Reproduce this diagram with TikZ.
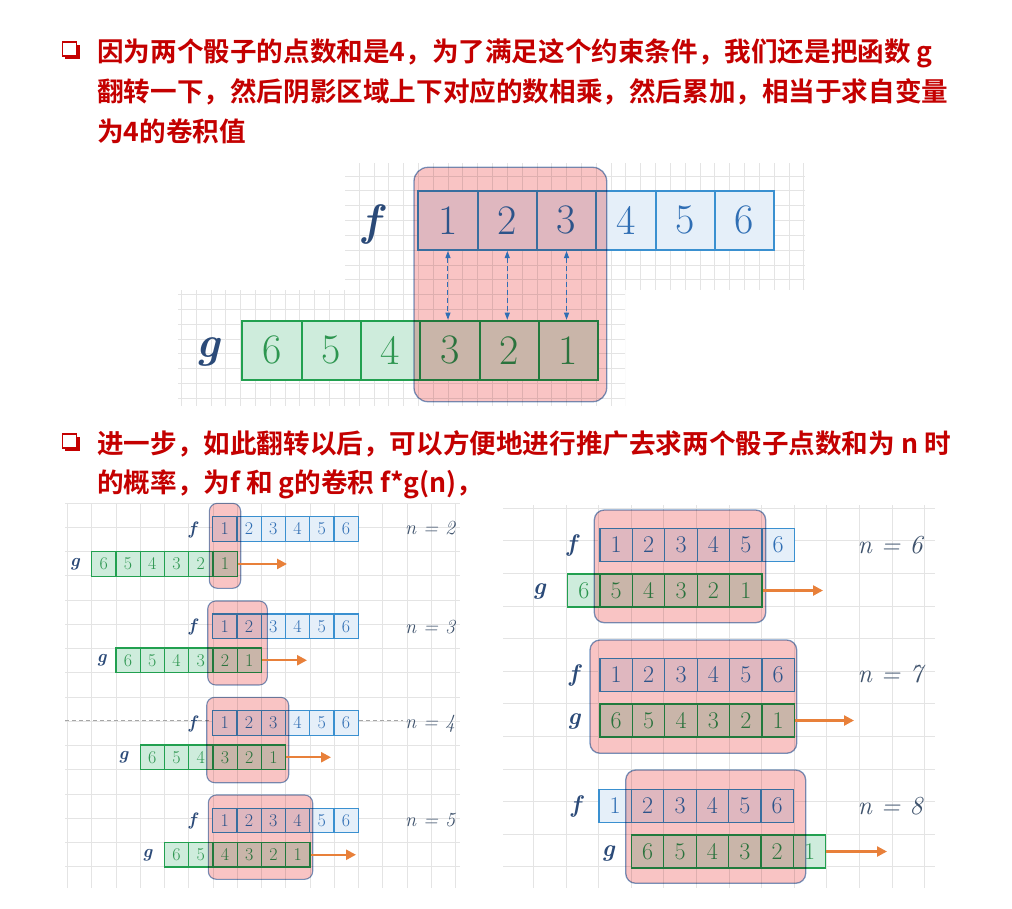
\documentclass[tikz,border=0pt]{standalone}
\usepackage{fontspec}
\newfontfamily\cjk{Noto Sans CJK SC}[BoldFont={Noto Sans CJK SC Bold}]
\usetikzlibrary{arrows.meta}
\definecolor{txtred}{RGB}{196,0,0}
\definecolor{fblue}{RGB}{58,144,208}
\definecolor{ffill}{RGB}{229,239,249}
\definecolor{fnum}{RGB}{47,110,180}
\definecolor{gline}{RGB}{34,160,80}
\definecolor{gfill}{RGB}{206,236,220}
\definecolor{gnum}{RGB}{45,150,80}
\definecolor{pinkfill}{RGB}{249,196,196}
\definecolor{pinkline}{RGB}{122,156,200}
\definecolor{lab}{RGB}{43,74,120}
\definecolor{nlab}{RGB}{62,82,108}
\definecolor{gridc}{RGB}{228,228,228}
\definecolor{arrowor}{RGB}{232,128,58}
\tikzset{
 fcell/.style={draw=fblue, fill=ffill, text=fnum, inner sep=0pt},
 gcell/.style={draw=gline, fill=gfill, text=gnum, inner sep=0pt},
 pinkbox/.style={fill=pinkfill, draw=pinkline, rounded corners=#1},
 pinkbox/.default=8pt,
 gridline/.style={draw=gridc, line width=0.6pt},
 moveArrow/.style={draw=arrowor, line width=2.4pt, -{Triangle[length=10pt,width=10pt]}},
 linkArrow/.style={draw=fnum, line width=1pt, dash pattern=on 5pt off 3pt, {Triangle[length=7pt,width=5pt]}-{Triangle[length=7pt,width=5pt]}},
 bigtext/.style={font=\cjk\bfseries\fontsize{26.6}{26.6}\selectfont, text=txtred, anchor=base west, inner sep=0pt},
 flabel/.style={text=lab, font=\bfseries\itshape\fontsize{#1}{#1}\selectfont, inner sep=0pt},
 nlabel/.style={text=nlab, font=\itshape\fontsize{#1}{#1}\selectfont, inner sep=0pt},
}
% #1 prefix, #2 x-left, #3 y-top, #4 w, #5 h, #6 style, #7 list
\newcommand{\cellrow}[7]{%
 \foreach \v [count=\k] in {#7}{%
  \node[#6, minimum width=#4pt, minimum height=#5pt] (#1\k) at ({#2+(\k-0.5)*#4},{#3+#5/2}) {\v};
 }}
% #1 x1 #2 y1 #3 x2 #4 y2 #5 x0 #6 y0 #7 step
\newcommand{\gridarea}[7]{%
 \begin{scope}
  \clip (#1,#2) rectangle (#3,#4);
  \foreach \k in {-45,...,45}{%
   \draw[gridline] ({#5+\k*#7},#2) -- ({#5+\k*#7},#4);
   \draw[gridline] (#1,{#6+\k*#7}) -- (#3,{#6+\k*#7});
  }
 \end{scope}}
\newcommand{\bulletsq}[2]{%
 \fill[txtred] (#1-5,#2-5) rectangle (#1+10,#2+9);
 \draw[txtred, fill=white, line width=1.8pt] (#1-7.5,#2-8) rectangle (#1+6.5,#2+6);}
\begin{document}
\begin{tikzpicture}[x=1pt,y=-1pt]
\useasboundingbox (0,0) rectangle (1012,908);
\fill[white] (0,0) rectangle (1012,908);

% ---------- text ----------
\bulletsq{70}{50}
\node[bigtext] (t1) at (97,61.5) {因为两个骰子的点数和是4，为了满足这个约束条件，我们还是把函数 g};
\node[bigtext] (t2) at (97,101.7) {翻转一下，然后阴影区域上下对应的数相乘，然后累加，相当于求自变量};
\node[bigtext] (t3) at (97,141.5) {为4的卷积值};
\bulletsq{70}{442}
\node[bigtext] (t4) at (97,453) {进一步，如此翻转以后，可以方便地进行推广去求两个骰子点数和为 n 时};
\node[bigtext] (t5) at (97,492) {的概率，为f 和 g的卷积 f*g(n)，};

% ---------- top diagram ----------
\gridarea{345}{163}{805}{290}{418.3}{190.7}{14.82}
\gridarea{178}{290}{625}{406}{418.3}{190.7}{14.82}
\cellrow{tf}{418.3}{190.7}{59.3}{59.3}{fcell,line width=2pt,font=\fontsize{42}{42}\selectfont}{1,2,3,4,5,6}
\cellrow{tg}{242.3}{320.7}{59.3}{59.3}{gcell,line width=2pt,font=\fontsize{42}{42}\selectfont}{6,5,4,3,2,1}
\begin{scope}[blend mode=multiply]
 \path[pinkbox=14pt, line width=1.3pt] (414,167.3) rectangle (606.7,401.7);
\end{scope}
\node[flabel=44] (tfl) at (371,224) {f};
\node[flabel=44] (tgl) at (208,352) {g};
\draw[linkArrow] (tf1.south) -- (tf1.south |- tg4.north);
\draw[linkArrow] (tf2.south) -- (tf2.south |- tg5.north);
\draw[linkArrow] (tf3.south) -- (tf3.south |- tg6.north);

% ---------- bottom left panel ----------
\gridarea{65}{503}{460}{888}{91.7}{503}{24.25}
\draw[gray!70, line width=0.6pt, dash pattern=on 4pt off 3pt] (65,720) -- (403,720);
\tikzset{lcellf/.style={fcell,line width=1.1pt,font=\fontsize{18}{18}\selectfont},
         lcellg/.style={gcell,line width=1.1pt,font=\fontsize{18}{18}\selectfont}}
% n=2
\cellrow{af}{212.7}{516.7}{24.25}{24.5}{lcellf}{1,2,3,4,5,6}
\cellrow{ag}{91.7}{551.7}{24.25}{24.5}{lcellg}{6,5,4,3,2,1}
% n=3
\cellrow{bf}{212.7}{614}{24.25}{24.5}{lcellf}{1,2,3,4,5,6}
\cellrow{bg}{115.95}{648}{24.25}{24.5}{lcellg}{6,5,4,3,2,1}
% n=4
\cellrow{cf}{212.7}{710.7}{24.25}{24.5}{lcellf}{1,2,3,4,5,6}
\cellrow{cg}{140.2}{745}{24.25}{24.5}{lcellg}{6,5,4,3,2,1}
% n=5
\cellrow{df}{212.7}{808.3}{24.25}{24.5}{lcellf}{1,2,3,4,5,6}
\cellrow{dg}{164.45}{842.5}{24.25}{24.5}{lcellg}{6,5,4,3,2,1}

% ---------- bottom right panel ----------
\gridarea{503}{505}{935}{888}{533.3}{508}{32.6}
\tikzset{rcellf/.style={fcell,line width=1.3pt,font=\fontsize{24}{24}\selectfont},
         rcellg/.style={gcell,line width=1.3pt,font=\fontsize{24}{24}\selectfont}}
% n=6
\cellrow{ef}{600}{528.3}{32.4}{33}{rcellf}{1,2,3,4,5,6}
\cellrow{eg}{567.6}{574}{32.4}{33}{rcellg}{6,5,4,3,2,1}
% n=7
\cellrow{hf}{600}{658.3}{32.4}{33}{rcellf}{1,2,3,4,5,6}
\cellrow{hg}{600}{704}{32.4}{33}{rcellg}{6,5,4,3,2,1}
% n=8
\cellrow{kf}{599}{789.3}{32.4}{33}{rcellf}{1,2,3,4,5,6}
\cellrow{kg}{631.4}{835}{32.4}{33}{rcellg}{6,5,4,3,2,1}

% pink overlays (multiply)
\begin{scope}[blend mode=multiply]
 \path[pinkbox=8pt, line width=1.1pt] (209.3,503.3) rectangle (240.7,588.3);
 \path[pinkbox=8pt, line width=1.1pt] (207.7,601) rectangle (267.3,685);
 \path[pinkbox=8pt, line width=1.1pt] (206.7,697.3) rectangle (288.7,782.7);
 \path[pinkbox=8pt, line width=1.1pt] (208.3,795) rectangle (312.7,879.3);
 \path[pinkbox=10pt, line width=1.3pt] (594.3,510) rectangle (765.7,622.7);
 \path[pinkbox=10pt, line width=1.3pt] (590,640) rectangle (796.7,753.3);
 \path[pinkbox=10pt, line width=1.3pt] (625.7,770) rectangle (805.7,883.3);
\end{scope}

% left labels and arrows
\node[flabel=18] (afl) at (192.5,530) {f};
\node[flabel=18] (agl) at (75,564) {g};
\node[nlabel=20] (an) at (430,528) {n = 2};
\coordinate (aend) at (287,0);
\draw[moveArrow] (ag6.east) -- (ag6.east -| aend);

\node[flabel=18] (bfl) at (192.5,627) {f};
\node[flabel=18] (bgl) at (101.7,660) {g};
\node[nlabel=20] (bn) at (430,626.7) {n = 3};
\coordinate (bend) at (307,0);
\draw[moveArrow] (bg6.east) -- (bg6.east -| bend);

\node[flabel=18] (cfl) at (192.5,723.5) {f};
\node[flabel=18] (cgl) at (123.3,757.5) {g};
\node[nlabel=20] (cn) at (430,723.3) {n = 4};
\coordinate (cend) at (331,0);
\draw[moveArrow] (cg6.east) -- (cg6.east -| cend);

\node[flabel=18] (dfl) at (192.5,821) {f};
\node[flabel=18] (dgl) at (147.3,855) {g};
\node[nlabel=20] (dn) at (430,820) {n = 5};
\coordinate (dend) at (356,0);
\draw[moveArrow] (dg6.east) -- (dg6.east -| dend);

% right labels and arrows
\node[flabel=24] (efl) at (571.7,545) {f};
\node[flabel=24] (egl) at (539.3,591) {g};
\node[nlabel=26] (en) at (890,545) {n = 6};
\coordinate (eend) at (823,0);
\draw[moveArrow] (eg6.east) -- (eg6.east -| eend);

\node[flabel=24] (hfl) at (574,675) {f};
\node[flabel=24] (hgl) at (574,721) {g};
\node[nlabel=26] (hn) at (890,674) {n = 7};
\coordinate (hend) at (854,0);
\draw[moveArrow] (hg6.east) -- (hg6.east -| hend);

\node[flabel=24] (kfl) at (576,806) {f};
\node[flabel=24] (kgl) at (608.3,853) {g};
\node[nlabel=26] (kn) at (890,806) {n = 8};
\coordinate (kend) at (887,0);
\draw[moveArrow] (kg6.east) -- (kg6.east -| kend);
\end{tikzpicture}
\end{document}
